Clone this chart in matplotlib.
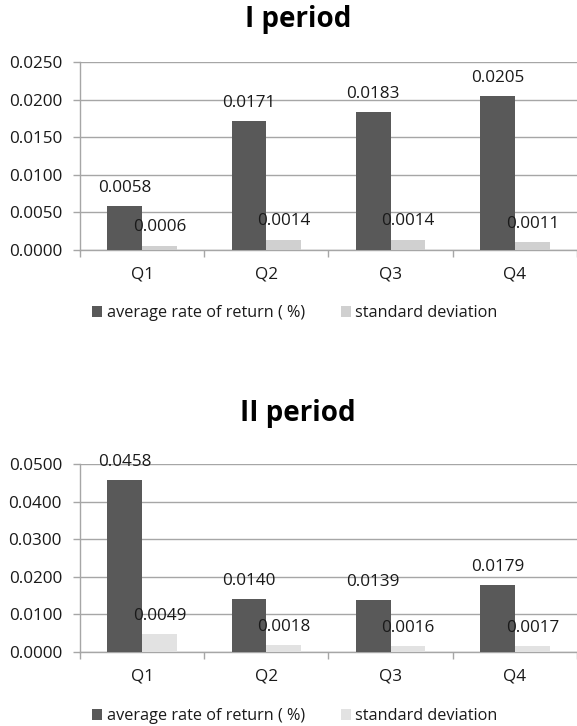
import matplotlib
matplotlib.use("Agg")
import matplotlib.pyplot as plt
import numpy as np

plt.rcParams['font.family'] = ['Open Sans', 'DejaVu Sans']

quarters = ["Q1", "Q2", "Q3", "Q4"]

period1_return = [0.0058, 0.0171, 0.0183, 0.0205]
period1_std = [0.0006, 0.0014, 0.0014, 0.0011]

period2_return = [0.0458, 0.0140, 0.0139, 0.0179]
period2_std = [0.0049, 0.0018, 0.0016, 0.0017]

series_names = ["average rate of return ( %)", "standard deviation"]

DARK = "#595959"
GRID = "#a6a6a6"
TEXT = "#1a1a1a"
FS = 12.3


def draw_panel(ax, ret, std, light, ymax, step):
    x = np.arange(len(quarters))
    w = 0.28
    b1 = ax.bar(x - w / 2, ret, w, color=DARK, zorder=3)
    b2 = ax.bar(x + w / 2, std, w, color=light, zorder=3)
    for bars, vals in ((b1, ret), (b2, std)):
        for r, v in zip(bars, vals):
            ax.annotate(f"{v:.4f}", (r.get_x() + r.get_width() / 2, v),
                        xytext=(0, 13), textcoords="offset points",
                        ha="center", va="center", fontsize=FS,
                        color=TEXT, zorder=5)
    ticks = np.arange(0, ymax + step / 2, step)
    ax.set_xlim(-0.5, len(quarters) - 0.5)
    ax.set_ylim(0, ymax)
    ax.set_yticks(ticks)
    ax.set_yticklabels([f"{t:.4f}" for t in ticks])
    ax.yaxis.grid(True, color=GRID, linewidth=1.0, zorder=0)
    ax.set_xticks(x)
    ax.set_xticklabels(quarters)
    ax.set_xticks(np.arange(-0.5, len(quarters)), minor=True)
    ax.tick_params(axis="x", which="major", length=0, pad=12, labelsize=FS,
                   labelcolor=TEXT)
    ax.tick_params(axis="x", which="minor", length=5, color=GRID, width=1.0)
    ax.tick_params(axis="y", length=5, color=GRID, width=1.0, labelsize=FS,
                   pad=8, labelcolor=TEXT)
    for s in ("top", "right"):
        ax.spines[s].set_visible(False)
    for s in ("left", "bottom"):
        ax.spines[s].set_color(GRID)
        ax.spines[s].set_linewidth(1.0)
    return b1, b2


fig = plt.figure(figsize=(5.77, 7.26), dpi=100)

ax1 = fig.add_axes([0.1386, 0.6556, 0.8614, 0.2590])
h1 = draw_panel(ax1, period1_return, period1_std, "#d0d0d0", 0.025, 0.005)
fig.text(298 / 577, 1 - 19 / 726, "I period", ha="center", va="center",
         fontsize=20, fontweight="bold", color="black")
fig.legend(h1, series_names, loc="center", bbox_to_anchor=(295 / 577, 1 - 313 / 726),
           ncol=2, frameon=False, fontsize=11.7, handlelength=0.6, handleheight=0.7,
           handletextpad=0.3, columnspacing=2.2, labelcolor=TEXT)

ax2 = fig.add_axes([0.1386, 0.1019, 0.8614, 0.2590])
h2 = draw_panel(ax2, period2_return, period2_std, "#e2e2e2", 0.05, 0.01)
fig.text(298 / 577, 1 - 413 / 726, "II period", ha="center", va="center",
         fontsize=20, fontweight="bold", color="black")
fig.legend(h2, series_names, loc="center", bbox_to_anchor=(295 / 577, 1 - 716 / 726),
           ncol=2, frameon=False, fontsize=11.7, handlelength=0.6, handleheight=0.7,
           handletextpad=0.3, columnspacing=2.2, labelcolor=TEXT)

fig.savefig("out.png", dpi=100)
